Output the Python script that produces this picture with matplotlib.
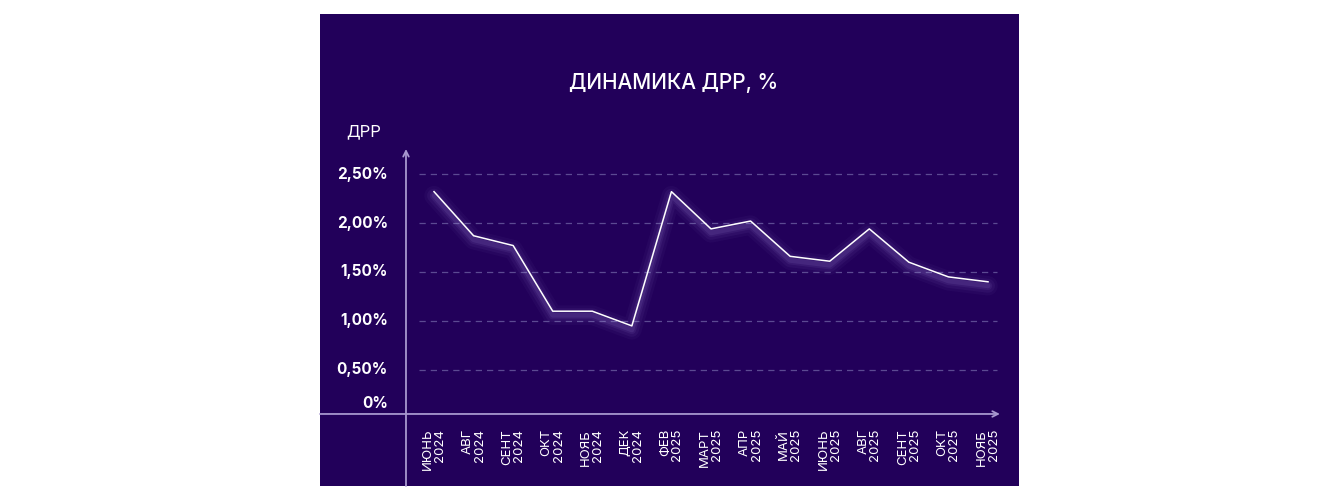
import matplotlib.pyplot as plt
import matplotlib.transforms as mtransforms

plt.rcParams['font.family'] = ['Inter', 'DejaVu Sans']

months = ['ИЮНЬ', 'АВГ', 'СЕНТ', 'ОКТ', 'НОЯБ', 'ДЕК', 'ФЕВ', 'МАРТ',
          'АПР', 'МАЙ', 'ИЮНЬ', 'АВГ', 'СЕНТ', 'ОКТ', 'НОЯБ']
years = ['2024'] * 6 + ['2025'] * 9
drr = [2.32, 1.87, 1.77, 1.10, 1.10, 0.95, 2.32, 1.94,
       2.02, 1.66, 1.61, 1.94, 1.60, 1.45, 1.40]
yticks = [0.5, 1.0, 1.5, 2.0, 2.5]
ylabels = ['0,50%', '1,00%', '1,50%', '2,00%', '2,50%']

bg = '#22005a'
axis_col = '#a797cf'
grid_col = '#5c4a92'

fig = plt.figure(figsize=(13.4, 5), dpi=100)
fig.patch.set_facecolor('white')
# panel occupies px 320..1019 x 14..486
ax = fig.add_axes([320 / 1340, 14 / 500, 699 / 1340, 472 / 500])
ax.set_facecolor(bg)
for s in ax.spines.values():
    s.set_visible(False)
ax.set_xticks([])
ax.set_yticks([])

# px per index 39.57, index 0 at px 434 ; 98 px per 1 %, 0 at px 419
ax.set_xlim(-2.881, 14.783)
ax.set_ylim(-0.684, 4.133)

x = list(range(len(drr)))

# grid
for v in yticks:
    ax.plot([-0.38, 14.23], [v, v], color=grid_col, lw=0.9,
            dashes=(5, 4), zorder=1)

# axes with arrows
ax.annotate('', xy=(14.30, 0.051), xytext=(-2.881, 0.051),
            arrowprops=dict(arrowstyle='->', color=axis_col, lw=1.3,
                            shrinkA=0, shrinkB=0), zorder=2)
ax.annotate('', xy=(-0.708, 2.755), xytext=(-0.708, -0.684),
            arrowprops=dict(arrowstyle='->', color=axis_col, lw=1.3,
                            shrinkA=0, shrinkB=0), zorder=2)

# glow under line
off = mtransforms.offset_copy(ax.transData, fig=fig, x=0, y=-4, units='dots')
for lw, a in [(14, 0.035), (10, 0.05), (6, 0.07), (3.5, 0.09)]:
    ax.plot(x, drr, color='#c4b2ff', lw=lw, alpha=a, transform=off,
            solid_joinstyle='round', solid_capstyle='round', zorder=3)
ax.plot(x, drr, color='white', lw=1.1, zorder=4)

# y tick labels
for v, lab in zip(yticks, ylabels):
    ax.text(-1.163, v, lab, color='white', fontsize=11, fontweight='bold',
            ha='right', va='center')
ax.text(-1.163, 0.153, '0%', color='white', fontsize=11, fontweight='bold',
        ha='right', va='center')

# x tick labels
for i, (m, yr) in enumerate(zip(months, years)):
    ax.text(i, -0.102, m + '\n' + yr, color='white', fontsize=9.5,
            rotation=90, ha='center', va='top', multialignment='right',
            linespacing=1.0)

ax.text(-1.78, 2.93, 'ДРР', color='white', fontsize=12,
        ha='center', va='center')
ax.text(6.06, 3.43, 'ДИНАМИКА ДРР, %', color='white', fontsize=15,
        fontweight='medium', ha='center', va='center')

fig.savefig('out.png', dpi=100, facecolor='white')
